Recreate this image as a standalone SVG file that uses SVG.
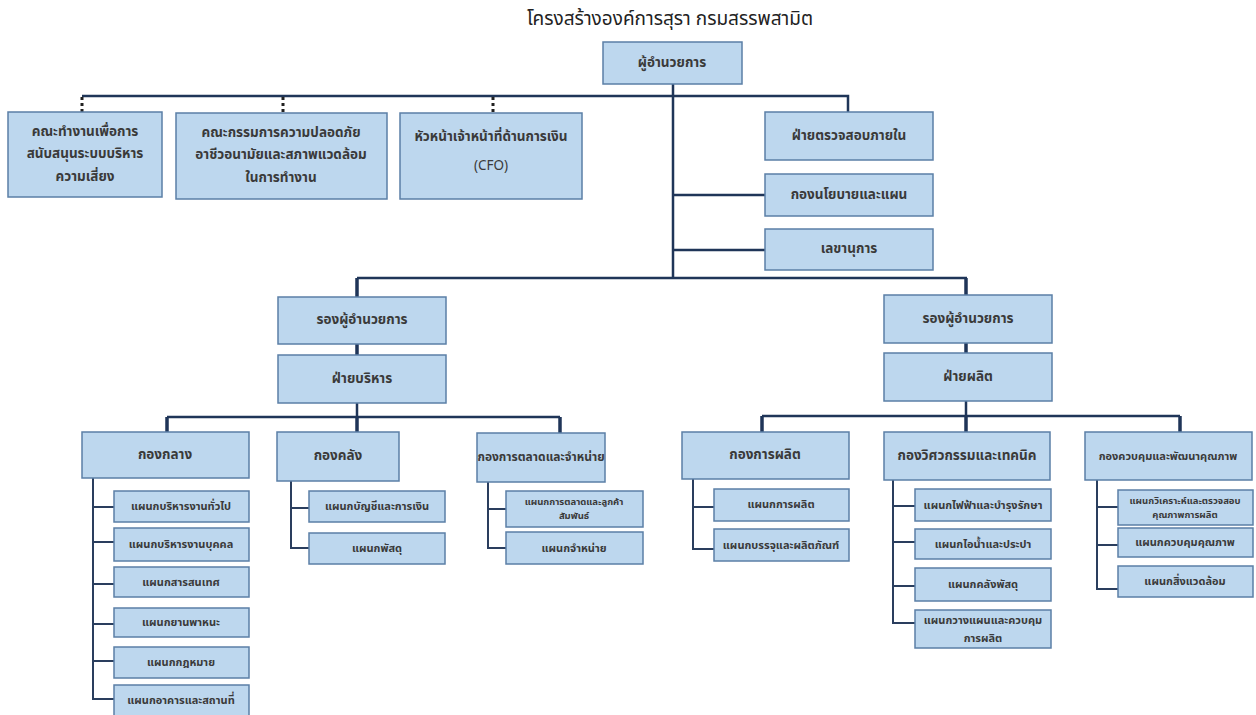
<svg xmlns="http://www.w3.org/2000/svg" width="1256" height="715" viewBox="0 0 1256 715">
<style>
.b{fill:#bdd7ee;stroke:#5b7fa6;stroke-width:1.5}
text{font-family:"Noto Sans Thai","Noto Sans","DejaVu Sans",sans-serif;fill:#3a3a3a;text-anchor:middle;dominant-baseline:central;font-weight:bold}
.t{font-size:19px;font-weight:normal;fill:#222}
.m{font-size:13.5px}
.s{font-size:11px}
.xs{font-size:9.5px}
.ln{stroke:#1f3558;stroke-width:2.5;fill:none}
.dr{stroke:#1f3558;stroke-width:3.5;fill:none}
.sp{stroke:#2a3e5e;stroke-width:2;fill:none}
.dt{stroke:#222;stroke-width:3;stroke-dasharray:3 3;fill:none}
</style>
<rect width="1256" height="715" fill="#fff"/>
<text class="t" x="670" y="19">โครงสร้างองค์การสุรา กรมสรรพสามิต</text>
<g id="connectors">
<path class="ln" d="M673 84V278M82 96H848V112M673 195H765M673 250H765M357 278H967"/>
<path class="dt" d="M82 97V112M283 97V113M493 97V113"/>
<path class="dr" d="M357 278V297M357 344V355M966 278V295M966 343V353"/>
<path class="ln" d="M357 403V417M167 417H560M966 401V416M762 416H1180"/>
<path class="dr" d="M167 417V432M357 417V432M560 417V433M762 416V432M966 416V432M1180 416V432"/>
<path class="sp" d="M93 478V699H114M93 507H114M93 542H114M93 584H114M93 624H114M93 661H114"/>
<path class="sp" d="M291 481V548H309M291 508H309"/>
<path class="sp" d="M488 482V548H506M488 509H506"/>
<path class="sp" d="M693 479V549H714M693 507H714"/>
<path class="sp" d="M893 480V623H915M893 506H915M893 542H915M893 586H915"/>
<path class="sp" d="M1097 480V589H1118M1097 507H1118M1097 545H1118"/>
</g>
<g id="n_director"><rect class="b" x="603" y="42" width="139" height="42"/><text class="m" x="672" y="63">ผู้อำนวยการ</text></g>
<g id="n_risk"><rect class="b" x="8" y="112" width="154" height="85"/><text class="m" x="85" y="132">คณะทำงานเพื่อการ</text><text class="m" x="85" y="154">สนับสนุนระบบบริหาร</text><text class="m" x="85" y="177">ความเสี่ยง</text></g>
<g id="n_safety"><rect class="b" x="176" y="113" width="211" height="86"/><text class="m" x="281" y="133">คณะกรรมการความปลอดภัย</text><text class="m" x="281" y="155">อาชีวอนามัยและสภาพแวดล้อม</text><text class="m" x="281" y="178">ในการทำงาน</text></g>
<g id="n_cfo"><rect class="b" x="400" y="113" width="182" height="86"/><text class="m" x="491" y="137">หัวหน้าเจ้าหน้าที่ด้านการเงิน</text><text class="m" x="491" y="166" style="font-weight:normal">(CFO)</text></g>
<g id="n_audit"><rect class="b" x="765" y="112" width="168" height="48"/><text class="m" x="849" y="136">ฝ่ายตรวจสอบภายใน</text></g>
<g id="n_policy"><rect class="b" x="765" y="174" width="168" height="42"/><text class="m" x="849" y="195">กองนโยบายและแผน</text></g>
<g id="n_secretary"><rect class="b" x="765" y="229" width="168" height="41"/><text class="m" x="849" y="249">เลขานุการ</text></g>
<g id="n_deputy1"><rect class="b" x="278" y="297" width="168" height="47"/><text class="m" x="362" y="320">รองผู้อำนวยการ</text></g>
<g id="n_admin"><rect class="b" x="278" y="355" width="168" height="48"/><text class="m" x="362" y="379">ฝ่ายบริหาร</text></g>
<g id="n_deputy2"><rect class="b" x="884" y="295" width="168" height="48"/><text class="m" x="968" y="319">รองผู้อำนวยการ</text></g>
<g id="n_prod"><rect class="b" x="884" y="353" width="168" height="48"/><text class="m" x="968" y="377">ฝ่ายผลิต</text></g>
<g id="n_central"><rect class="b" x="82" y="432" width="167" height="46"/><text class="m" x="165" y="455">กองกลาง</text></g>
<g id="n_treasury"><rect class="b" x="277" y="432" width="122" height="49"/><text class="m" x="338" y="456">กองคลัง</text></g>
<g id="n_marketing"><rect class="b" x="477" y="433" width="128" height="49"/><text class="m" x="541" y="457" style="font-size:12px">กองการตลาดและจำหน่าย</text></g>
<g id="n_production"><rect class="b" x="682" y="432" width="167" height="47"/><text class="m" x="765" y="455">กองการผลิต</text></g>
<g id="n_engineering"><rect class="b" x="884" y="432" width="166" height="48"/><text class="m" x="967" y="456">กองวิศวกรรมและเทคนิค</text></g>
<g id="n_quality"><rect class="b" x="1085" y="432" width="167" height="48"/><text class="s" x="1168" y="456">กองควบคุมและพัฒนาคุณภาพ</text></g>
<g id="n_c1"><rect class="b" x="114" y="491" width="135" height="31"/><text class="s" x="181" y="506">แผนกบริหารงานทั่วไป</text></g>
<g id="n_c2"><rect class="b" x="114" y="528" width="135" height="33"/><text class="s" x="181" y="544">แผนกบริหารงานบุคคล</text></g>
<g id="n_c3"><rect class="b" x="114" y="567" width="135" height="30"/><text class="s" x="181" y="582">แผนกสารสนเทศ</text></g>
<g id="n_c4"><rect class="b" x="114" y="608" width="135" height="29"/><text class="s" x="181" y="622">แผนกยานพาหนะ</text></g>
<g id="n_c5"><rect class="b" x="114" y="647" width="135" height="31"/><text class="s" x="181" y="662">แผนกกฎหมาย</text></g>
<g id="n_c6"><rect class="b" x="114" y="685" width="135" height="32"/><text class="s" x="181" y="700">แผนกอาคารและสถานที่</text></g>
<g id="n_t1"><rect class="b" x="309" y="491" width="136" height="31"/><text class="s" x="377" y="506">แผนกบัญชีและการเงิน</text></g>
<g id="n_t2"><rect class="b" x="309" y="533" width="136" height="31"/><text class="s" x="377" y="548">แผนกพัสดุ</text></g>
<g id="n_m1"><rect class="b" x="506" y="491" width="137" height="36"/><text class="xs" x="574" y="502">แผนกการตลาดและลูกค้า</text><text class="xs" x="574" y="516">สัมพันธ์</text></g>
<g id="n_m2"><rect class="b" x="506" y="532" width="137" height="32"/><text class="s" x="574" y="548">แผนกจำหน่าย</text></g>
<g id="n_p1"><rect class="b" x="714" y="489" width="135" height="32"/><text class="s" x="781" y="504">แผนกการผลิต</text></g>
<g id="n_p2"><rect class="b" x="714" y="529" width="135" height="32"/><text class="s" x="781" y="545">แผนกบรรจุและผลิตภัณฑ์</text></g>
<g id="n_e1"><rect class="b" x="915" y="489" width="136" height="32"/><text class="s" x="983" y="505">แผนกไฟฟ้าและบำรุงรักษา</text></g>
<g id="n_e2"><rect class="b" x="915" y="529" width="136" height="30"/><text class="s" x="983" y="544">แผนกไอน้ำและประปา</text></g>
<g id="n_e3"><rect class="b" x="915" y="568" width="136" height="33"/><text class="s" x="983" y="584">แผนกคลังพัสดุ</text></g>
<g id="n_e4"><rect class="b" x="915" y="610" width="136" height="38"/><text class="s" x="983" y="620">แผนกวางแผนและควบคุม</text><text class="s" x="983" y="638">การผลิต</text></g>
<g id="n_q1"><rect class="b" x="1118" y="490" width="135" height="35"/><text class="xs" x="1185" y="501">แผนกวิเคราะห์และตรวจสอบ</text><text class="xs" x="1185" y="515">คุณภาพการผลิต</text></g>
<g id="n_q2"><rect class="b" x="1118" y="528" width="135" height="29"/><text class="s" x="1185" y="542">แผนกควบคุมคุณภาพ</text></g>
<g id="n_q3"><rect class="b" x="1118" y="566" width="135" height="31"/><text class="s" x="1185" y="581">แผนกสิ่งแวดล้อม</text></g>
</svg>
